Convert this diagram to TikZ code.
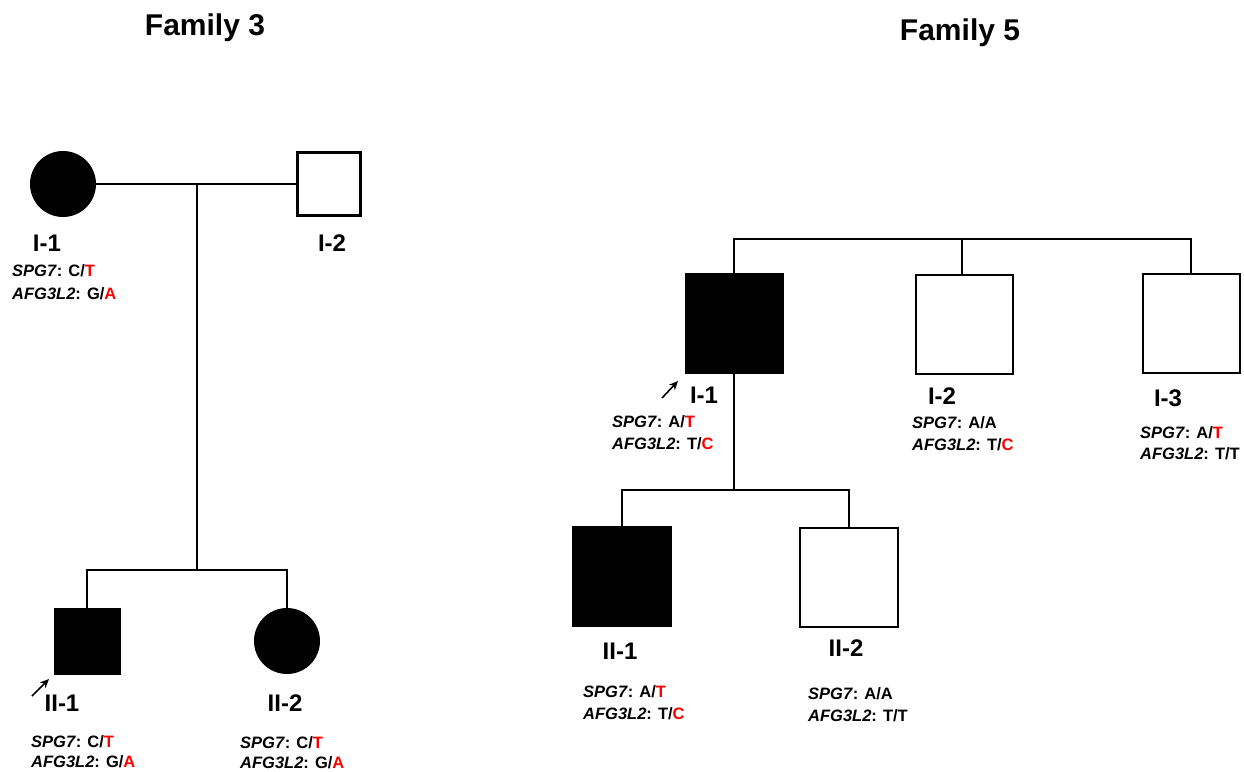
\documentclass[tikz,border=0pt]{standalone}
\usepackage{fontspec}
\setmainfont{Liberation Sans}
\usetikzlibrary{arrows.meta}
\newcommand{\gspg}[2]{\textit{SPG7}: #1/\textcolor{red}{#2}}
\newcommand{\gspgn}[2]{\textit{SPG7}: #1/#2}
\newcommand{\gafg}[2]{\textit{AFG3L2}: #1/\textcolor{red}{#2}}
\newcommand{\gafgn}[2]{\textit{AFG3L2}: #1/#2}
\begin{document}
\begin{tikzpicture}[x=1pt,y=-1pt,
  aff/.style={draw=black,fill=black,line width=2pt,inner sep=0pt},
  unaff/.style={draw=black,fill=white,line width=2pt,inner sep=0pt},
  lnA/.style={line width=2.8pt},
  lnB/.style={line width=2.1pt},
  lbl/.style={font=\fontsize{24}{28}\selectfont\bfseries,anchor=base,inner sep=0pt},
  gt/.style={font=\fontsize{16.5}{20}\selectfont\bfseries,anchor=base west,inner sep=0pt},
  ttl/.style={font=\fontsize{30}{34}\selectfont\bfseries,inner sep=0pt},
  prob/.style={-{Stealth[length=9pt,width=8pt]},line width=1.6pt}]
\useasboundingbox (0,0) rectangle (1244,771);

% ---------------- Family 3 ----------------
\node[ttl] (t3) at (205,28) {Family 3};

\node[aff,circle,minimum size=64pt] (f3i1) at (63,184) {};
\node[unaff,rectangle,minimum size=63pt,line width=2.4pt] (f3i2) at (329,184) {};
\node[aff,rectangle,minimum size=65pt] (f3ii1) at (87,641) {};
\node[aff,circle,minimum size=64pt] (f3ii2) at (287,641) {};

\coordinate (f3m) at (197,184);
\coordinate (f3s) at (197,570);

\draw[lnA] (f3i1.east) -- (f3i2.west);
\draw[lnA] (f3m) -- (f3s);
\draw[lnA] (f3ii1.north) -- (f3ii1.north |- f3s) -- (f3ii2.north |- f3s) -- (f3ii2.north);

\node[lbl] (l3i1) at (47,251.5) {I-1};
\node[lbl] (l3i2) at (332,251.5) {I-2};
\node[lbl] (l3ii1) at (62,711.5) {II-1};
\node[lbl] (l3ii2) at (285,711.5) {II-2};

\node[gt] (g3i1a) at (12,276) {\gspg{C}{T}};
\node[gt] (g3i1b) at (12,299) {\gafg{G}{A}};
\node[gt] (g3ii1a) at (31,747) {\gspg{C}{T}};
\node[gt] (g3ii1b) at (31,767.5) {\gafg{G}{A}};
\node[gt] (g3ii2a) at (240,748) {\gspg{C}{T}};
\node[gt] (g3ii2b) at (240,768) {\gafg{G}{A}};

\coordinate (a3s) at (32,696);
\coordinate (a3e) at (49,679);
\draw[prob] (a3s) -- (a3e);

% ---------------- Family 5 ----------------
\node[ttl] (t5) at (960,33) {Family 5};

\node[aff,rectangle,minimum width=97pt,minimum height=99pt] (f5i1) at (734,323) {};
\node[unaff,rectangle,minimum width=97pt,minimum height=99pt] (f5i2) at (964,324) {};
\node[unaff,rectangle,minimum width=97pt,minimum height=99pt] (f5i3) at (1191,323) {};
\node[aff,rectangle,minimum width=98pt,minimum height=99pt] (f5ii1) at (622,576) {};
\node[unaff,rectangle,minimum width=98pt,minimum height=99pt] (f5ii2) at (849,577) {};

\coordinate (f5top) at (962,239);
\coordinate (f5s) at (734,490);

\draw[lnB] (f5i1.north) -- (f5i1.north |- f5top) -- (f5i3.north |- f5top) -- (f5i3.north);
\draw[lnB] (f5top) -- (f5top |- f5i2.north);
\draw[lnB] (f5i1.south) -- (f5s);
\draw[lnB] (f5ii1.north) -- (f5ii1.north |- f5s) -- (f5ii2.north |- f5s) -- (f5ii2.north);

\node[lbl] (l5i1) at (704,403.5) {I-1};
\node[lbl] (l5i2) at (942,404.5) {I-2};
\node[lbl] (l5i3) at (1168,406.5) {I-3};
\node[lbl] (l5ii1) at (620,659.5) {II-1};
\node[lbl] (l5ii2) at (846,656.5) {II-2};

\node[gt] (g5i1a) at (612,427) {\gspg{A}{T}};
\node[gt] (g5i1b) at (612,449) {\gafg{T}{C}};
\node[gt] (g5i2a) at (912,428) {\gspgn{A}{A}};
\node[gt] (g5i2b) at (912,450) {\gafg{T}{C}};
\node[gt] (g5i3a) at (1140,438) {\gspg{A}{T}};
\node[gt] (g5i3b) at (1140,459) {\gafgn{T}{T}};
\node[gt] (g5ii1a) at (583,697) {\gspg{A}{T}};
\node[gt] (g5ii1b) at (583,719) {\gafg{T}{C}};
\node[gt] (g5ii2a) at (808,699) {\gspgn{A}{A}};
\node[gt] (g5ii2b) at (808,721) {\gafgn{T}{T}};

\coordinate (a5s) at (662,398);
\coordinate (a5e) at (678,381);
\draw[prob] (a5s) -- (a5e);
\end{tikzpicture}
\end{document}
